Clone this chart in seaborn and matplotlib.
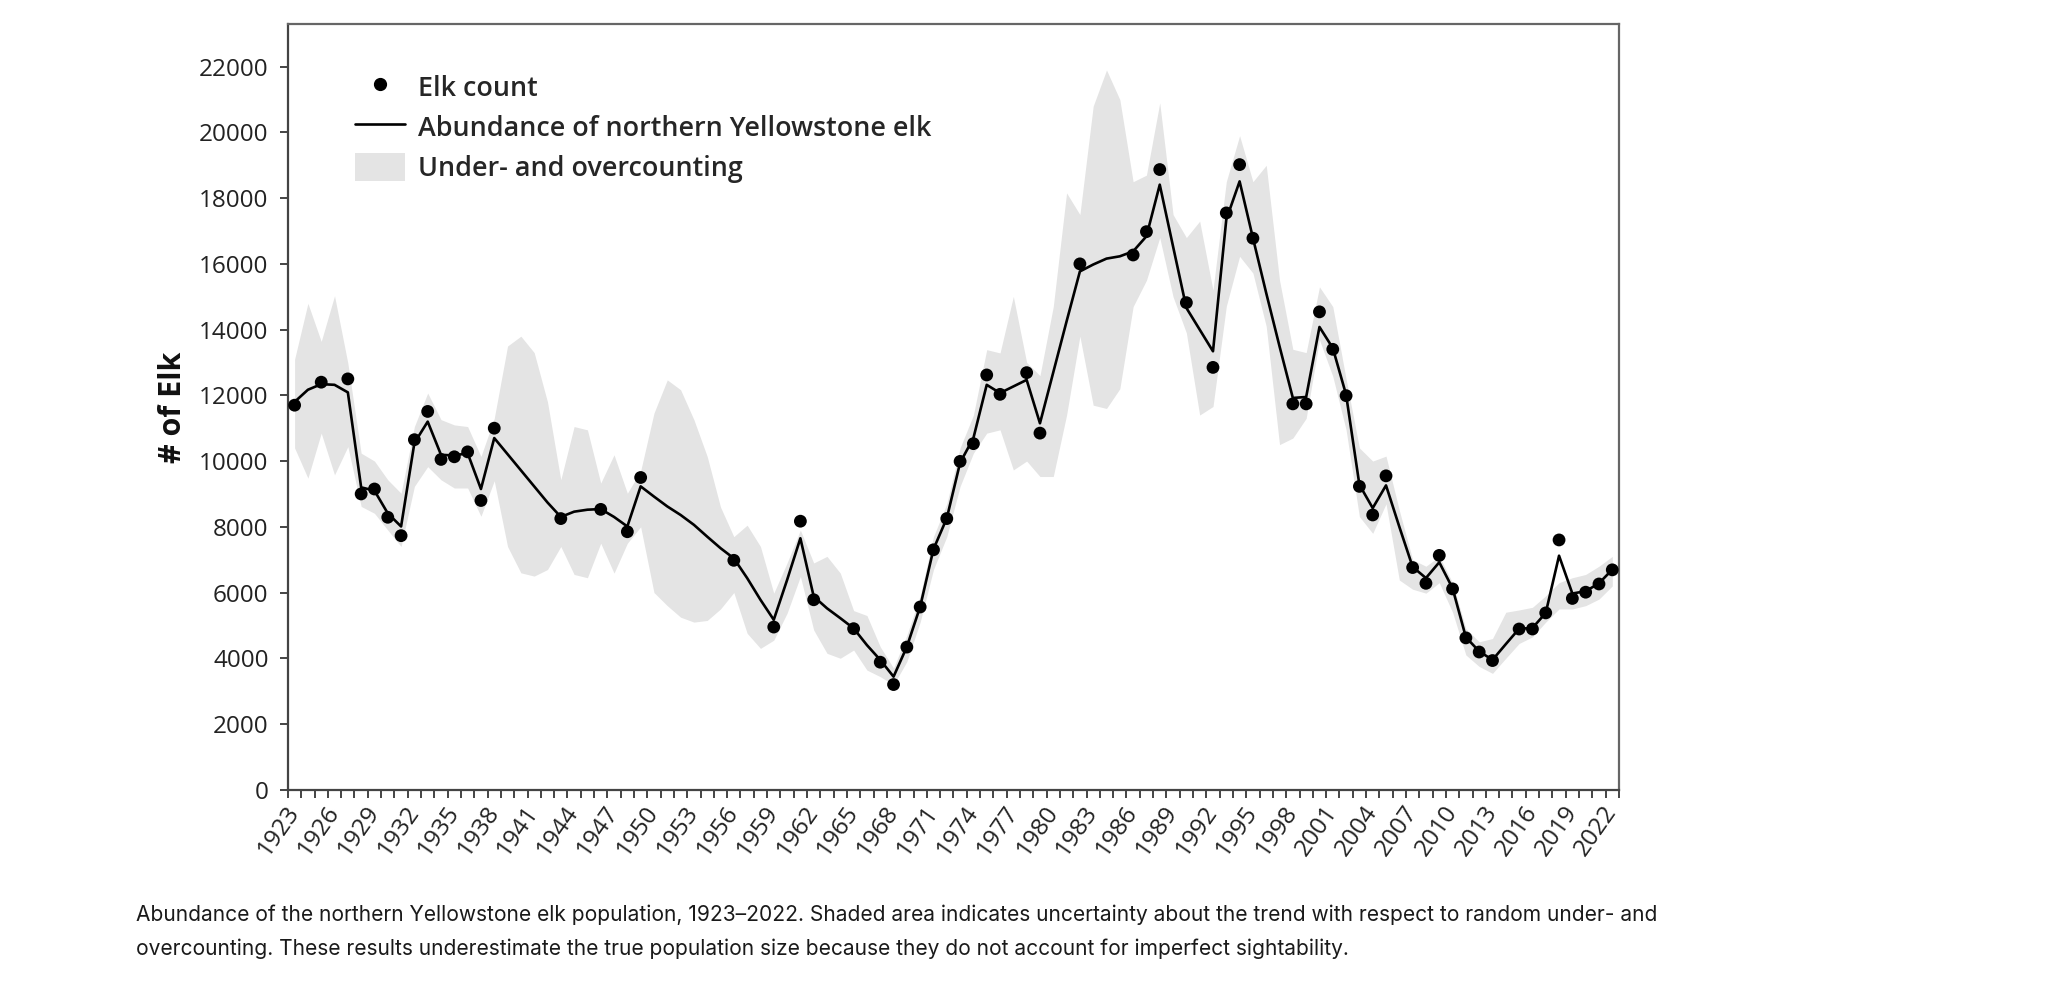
import numpy as np
import pandas as pd
import matplotlib.pyplot as plt
import seaborn as sns
from matplotlib.lines import Line2D
from matplotlib.patches import Patch

sns.set_style("white")
plt.rcParams['font.family'] = ['Open Sans', 'DejaVu Sans']

# --- DATA ---
years = list(range(1923, 2023))

abundance = [
    11800, 12170, 12340, 12320, 12090, 9200, 9100, 8410, 8010, 10550,   # 1923-1932
    11200, 10190, 10170, 10240, 9150, 10700, 10210, 9720, 9230, 8740,   # 1933-1942
    8300, 8460, 8520, 8540, 8300, 8010, 9230, 8920, 8620, 8360,         # 1943-1952
    8060, 7700, 7350, 7040, 6440, 5780, 5170, 6380, 7650, 5880,         # 1953-1962
    5520, 5220, 4910, 4400, 3950, 3440, 4350, 5570, 7320, 8260,         # 1963-1972
    9950, 10700, 12320, 12070, 12270, 12470, 11150, 12700, 14250, 15770,  # 1973-1982
    15980, 16160, 16230, 16380, 16840, 18410, 16530, 14660, 14000, 13340,  # 1983-1992
    17350, 18510, 16790, 15110, 13490, 11920, 11950, 14080, 13440, 12020,  # 1993-2002
    9280, 8570, 9260, 8000, 6780, 6440, 6920, 6130, 4640, 4210,         # 2003-2012
    3950, 4430, 4900, 4920, 5380, 7120, 5970, 6040, 6280, 6700,         # 2013-2022
]

lower = [
    10400, 9480, 10850, 9580, 10440, 8620, 8410, 7900, 7400, 9230,
    9830, 9430, 9180, 9180, 8320, 9400, 7400, 6600, 6500, 6700,
    7400, 6550, 6450, 7500, 6590, 7500, 8000, 6000, 5600, 5250,
    5100, 5150, 5500, 6000, 4760, 4300, 4550, 5370, 6490, 4860,
    4150, 4000, 4250, 3640, 3440, 3190, 3900, 5100, 6700, 7700,
    9230, 10240, 10850, 10950, 9730, 10000, 9530, 9530, 11400, 13800,
    11700, 11600, 12200, 14700, 15500, 16800, 15000, 13900, 11400, 11660,
    14710, 16230, 15720, 14100, 10500, 10700, 11300, 13690, 12580, 10950,
    8310, 7800, 8700, 6380, 6100, 5980, 6300, 5400, 4100, 3750,
    3540, 4000, 4450, 4650, 5100, 5500, 5500, 5600, 5800, 6200,
]

upper = [
    13100, 14800, 13640, 15030, 12980, 10240, 10000, 9430, 9020, 11050,
    12070, 11260, 11100, 11050, 10140, 11300, 13500, 13800, 13300, 11800,
    9430, 11050, 10950, 9330, 10190, 9020, 9700, 11460, 12470, 12170,
    11260, 10140, 8600, 7700, 8050, 7400, 5980, 6900, 7900, 6900,
    7100, 6590, 5450, 5300, 4350, 3700, 4700, 5900, 7700, 8700,
    10400, 11400, 13390, 13290, 15010, 13000, 12600, 14700, 18160, 17500,
    20800, 21900, 21000, 18500, 18700, 20900, 17500, 16800, 17300, 15200,
    18500, 19900, 18500, 19000, 15500, 13400, 13300, 15300, 14700, 12500,
    10400, 10000, 10150, 8500, 7000, 6800, 7100, 6300, 4900, 4500,
    4600, 5400, 5470, 5550, 5900, 6300, 6450, 6550, 6800, 7100,
]

count_years = [
    1923, 1925, 1927, 1928, 1929, 1930, 1931, 1932, 1933, 1934, 1935, 1936,
    1937, 1938, 1943, 1946, 1948, 1949, 1956, 1959, 1961, 1962, 1965, 1967,
    1968, 1969, 1970, 1971, 1972, 1973, 1974, 1975, 1976, 1978, 1979, 1982,
    1986, 1987, 1988, 1990, 1992, 1993, 1994, 1995, 1998, 1999, 2000, 2001,
    2002, 2003, 2004, 2005, 2007, 2008, 2009, 2010, 2011, 2012, 2013, 2015,
    2016, 2017, 2018, 2019, 2020, 2021, 2022,
]
counts = [
    11700, 12400, 12500, 9000, 9150, 8290, 7730, 10650, 11510, 10050, 10130, 10280,
    8800, 11000, 8250, 8530, 7850, 9500, 6980, 4950, 8170, 5780, 4900, 3880,
    3200, 4340, 5560, 7300, 8250, 9990, 10530, 12620, 12030, 12690, 10850, 16000,
    16270, 16980, 18870, 14820, 12850, 17550, 19020, 16780, 11740, 11740, 14540, 13400,
    11990, 9230, 8360, 9550, 6760, 6280, 7130, 6110, 4620, 4190, 3930, 4890,
    4890, 5380, 7600, 5820, 6010, 6260, 6690,
]

trend = pd.DataFrame({"Year": years, "Abundance": abundance,
                      "Lower": lower, "Upper": upper})
survey = pd.DataFrame({"Year": count_years, "Count": counts})

# --- PLOT ---
fig = plt.figure(figsize=(20.48, 9.98), dpi=100)
ax = fig.add_axes([0.1406, 0.2087, 0.6499, 0.7673])

band_color = '#e4e4e4'
ax.fill_between(trend["Year"], trend["Lower"], trend["Upper"],
                color=band_color, linewidth=0, zorder=1)
sns.lineplot(data=trend, x="Year", y="Abundance", ax=ax, color='black',
             linewidth=1.9, zorder=2)
sns.scatterplot(data=survey, x="Year", y="Count", ax=ax, color='black',
                s=85, edgecolor='none', zorder=3)

ax.set_xlim(1922.5, 2022.5)
ax.set_ylim(0, 23300)

# one tick per year at the category edges, a label every third year
ax.set_yticks(range(0, 22001, 2000))
ax.set_xticks(np.arange(1922.5, 2023, 1.0))
ax.set_xticklabels([])
label_years = list(range(1923, 2023, 3))
ax.set_xticks(label_years, minor=True)
ax.set_xticklabels([str(y) for y in label_years], minor=True,
                   rotation=55, ha='right', va='center',
                   rotation_mode='anchor')

spine_color = '#444444'
for sp in ax.spines.values():
    sp.set_visible(True)
    sp.set_color(spine_color)
    sp.set_linewidth(1.6)
ax.spines['top'].set_color('#666666')
ax.spines['right'].set_color('#666666')

ax.tick_params(axis='y', which='major', direction='out', length=6, width=1.4,
               color=spine_color, labelsize=17.5, labelcolor='#222222', pad=8,
               left=True)
ax.tick_params(axis='x', which='major', direction='out', length=6, width=1.4,
               color=spine_color, bottom=True)
ax.tick_params(axis='x', which='minor', length=0, labelsize=17.5,
               labelcolor='#222222', pad=13, bottom=True)

ax.set_xlabel("")
ax.set_ylabel("# of Elk", fontsize=22, fontweight='bold', color='#111111')
ax.yaxis.set_label_coords(-0.086, 0.5)
ax.yaxis.label.set_va('center')
ax.grid(False)

handles = [
    Line2D([], [], marker='o', linestyle='none', color='black', markersize=8.5),
    Line2D([], [], color='black', linewidth=1.9),
    Patch(facecolor=band_color, edgecolor='none'),
]
labels = ["Elk count", "Abundance of northern Yellowstone elk",
          "Under- and overcounting"]
ax.legend(handles, labels, loc='upper left', bbox_to_anchor=(0.032, 0.968),
          frameon=False, handlelength=1.85, handleheight=1.22,
          handletextpad=0.48, labelspacing=0.37,
          prop={'family': 'Open Sans', 'weight': 'semibold', 'size': 19.4})

caption_font = ['Inter', 'DejaVu Sans']
fig.text(0.0664, 0.0836,
         "Abundance of the northern Yellowstone elk population, 1923\u20132022. "
         "Shaded area indicates uncertainty about the trend with respect to random under- and",
         fontsize=15.1, family=caption_font, color='#1a1a1a', va='center')
fig.text(0.0664, 0.0495,
         "overcounting. These results underestimate the true population size "
         "because they do not account for imperfect sightability.",
         fontsize=15.1, family=caption_font, color='#1a1a1a', va='center')

fig.savefig("out.png", dpi=100, facecolor='white')
